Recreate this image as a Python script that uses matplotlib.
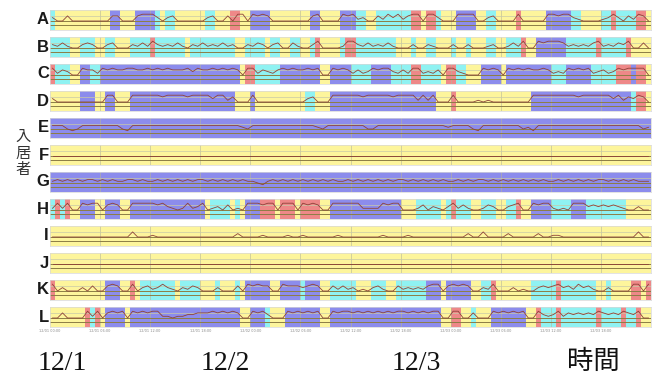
import matplotlib.pyplot as plt
import numpy as np

residents = list('ABCDEFGHIJKL')
bin_hours = 0.6          # one bin = 36 min, 120 bins = 3 days
n_bins = 120

# state runs per resident (Y/C/B/R + length in bins)
runs = {
    'A': "C1 Y11 B2 Y3 B4 C1 Y1 C2 Y6 C2 Y3 R2 Y2 B4 Y8 B2 Y4 B3 C2 Y2 C7 R2 Y1 R2 C1 Y3 B4 Y2 C2 Y4 R1 Y5 B5 C2 Y4 C2 R1 C4 R2 Y1",
    'B': "C4 Y2 C3 Y2 C2 Y3 C4 R1 C6 Y1 C9 Y2 C4 Y1 C2 Y2 C2 Y2 C1 R1 Y4 C1 R2 C8 Y3 C1 Y2 C2 Y3 C1 Y2 C1 Y3 C2 Y2 C3 R1 Y2 B6 C6 R1 C5 R1 Y4",
    'C': "R1 C3 Y2 B2 C2 B28 Y1 R2 C5 B8 Y2 B4 C4 B4 C4 R2 C4 Y1 R2 C2 Y3 B4 Y1 B9 C3 B5 C5 R3 B1 R2 Y1",
    'D': "Y6 B3 Y2 B2 Y3 B21 Y3 B1 Y10 C2 Y3 B21 Y3 R1 Y15 B20 C1 R2 Y1",
    'E': "B120",
    'F': "Y120",
    'G': "B120",
    'H': "C1 R1 C1 R1 Y2 B3 Y2 B3 Y2 B15 Y1 C4 Y1 C1 Y1 B3 R3 Y1 R3 Y1 R4 Y2 B14 Y3 C5 Y1 C1 R1 C3 Y2 C3 Y2 C2 R1 Y2 B4 C4 B3 C8 Y5",
    'I': "Y120",
    'J': "Y120",
    'K': "R1 Y10 B3 Y2 R1 Y1 C7 Y1 C4 Y3 C1 Y3 C1 Y1 B5 Y2 B4 C1 B3 Y2 C5 Y3 C3 Y2 C6 B3 Y1 B5 Y2 C2 R1 Y7 C5 R1 C7 Y2 C1 Y4 R2 Y1 R1",
    'L': "Y7 R1 C1 R1 Y1 B4 Y1 B22 Y2 B3 C1 Y3 B7 Y2 B22 Y2 R2 Y2 C1 Y3 B7 Y2 R1 C3 R1 C7 R1 C4 R1 C2 R1 Y2",
}

# activity level per bin (0-9, 4 = rest)
traces = {
    'A': "6447444444 4477444788 8646744444 4674474884 8787444444 4478444487 8564475868 5788488644 4888844674 4448444448 8788654444 5686475874",
    'B': "6575446764 4674446575 8656575465 7565756446 5764674475 4468444458 8657565754 4464465444 6446444564 4575844878 8875656578 5657684474",
    'C': "8576448775 8787788778 7878777868 7787878748 8576578787 7878448787 5756878865 7588565748 8654448787 4878787787 5658787856 7568788884",
    'D': "6444444444 4884448888 8878888788 8868857444 8444444444 4674448888 8878888878 8885858444 8444454544 4444448888 8888878888 8868576874",
    'E': "6664346666 6666436666 6666666666 6666666654 6666666666 6665466666 6664466666 6666666665 6666436666 6666453666 6666666666 6666666645",
    'F': "4444444444 4444444444 4444444444 4444444444 4444444444 4444444444 4444444444 4444444444 4444444444 4444444444 4444444444 4444444444",
    'G': "5656565665 6565566565 5656565656 6565656565 5435656565 6565656556 5656565656 6565656565 5656566565 6565656565 5656565656 6565656555",
    'H': "5858448788 4787448888 8786545856 8456474548 8878848884 8787448888 8855558788 4445746546 8575445764 4678448788 5454888676 7676544644",
    'I': "4444444444 4444447444 5444444444 4444444644 4454444544 5444444544 4444445444 4544444444 4446447444 4644444644 5544444444 4444444744",
    'J': "4444444444 4444444444 4444444444 4444444444 4444444444 4444444444 4444444444 4444444444 4444444444 4444444444 4444444444 4444444444",
    'K': "8464446474 4787448467 5686546576 4446444748 7877448777 6787447575 6454675447 5656578847 8787446584 4464544676 7867586754 4644448848",
    'L': "4474444858 4787848787 8855455667 7787878744 8786444878 7878448788 7878787878 8787878844 8844744487 8787844865 6857676768 7676876844",
}

tick_hours = list(range(0, 72, 6))
tick_labels = ['12/01 00:00', '12/01 06:00', '12/01 12:00', '12/01 18:00',
               '12/02 00:00', '12/02 06:00', '12/02 12:00', '12/02 18:00',
               '12/03 00:00', '12/03 06:00', '12/03 12:00', '12/03 18:00']

day_labels = ['12/1', '12/2', '12/3']

state_colors = {'Y': '#fdf59c', 'C': '#8ff2f2', 'B': '#8c8cec', 'R': '#ee8888'}

W, H = 659, 376
fig = plt.figure(figsize=(W / 100, H / 100), dpi=100)

for i, name in enumerate(residents):
    top = 10 + 27 * i
    ax = fig.add_axes([50 / W, 1 - (top + 20) / H, 601 / W, 20 / H])

    pos = 0
    for tok in runs[name].split():
        st, n = tok[0], int(tok[1:])
        ax.broken_barh([(pos * bin_hours, n * bin_hours)], (0, 1),
                       facecolors=state_colors[st], linewidth=0)
        pos += n

    for h in tick_hours[1:]:
        ax.axvline(h, color='#b5b59a', lw=0.4, zorder=2)
    ax.axhline(0.68, color='#c9c9a8', lw=0.5, zorder=2)
    ax.axhline(0.45, color='#8c7d45', lw=0.7, zorder=2)
    ax.axhline(0.25, color='#8c7d45', lw=0.7, zorder=2)

    s = (traces[name].replace(' ', '') + '4' * n_bins)[:n_bins]
    lvl = np.array([int(c) for c in s])
    x = (np.arange(n_bins) + 0.5) * bin_hours
    ax.plot(x, 0.45 + (lvl - 4) * 0.085, color='#8e4238', lw=0.6, zorder=3)

    ax.set_xlim(0, 72)
    ax.set_ylim(0, 1)
    ax.set_yticks([])
    for sp in ax.spines.values():
        sp.set_color('#d8d8d8')
        sp.set_linewidth(0.5)
    if name == 'L':
        ax.set_xticks(tick_hours)
        ax.set_xticklabels(tick_labels, fontsize=2.5, color='#888888')
        ax.tick_params(axis='x', length=0, pad=1.5)
    else:
        ax.set_xticks([])

    ax.text(-0.002, 0.5, name, transform=ax.transAxes, ha='right', va='center',
            fontsize=12, fontweight='bold', family='Liberation Sans', color='#1a1a1a')

fig.text(23 / W, 1 - 153 / H, '入\n居\n者', ha='center', va='center', fontsize=11,
         family='Noto Sans CJK JP', color='#333333', linespacing=0.95)

for lab, xc in zip(day_labels, [62, 225, 416]):
    fig.text(xc / W, 1 - 370 / H, lab, ha='center', va='baseline', fontsize=20,
             family='Liberation Serif', color='#111111')
fig.text(593 / W, 1 - 361 / H, '時間', ha='center', va='center', fontsize=19,
         family='Noto Sans CJK JP', color='#111111')

fig.savefig('out.png', dpi=100)
